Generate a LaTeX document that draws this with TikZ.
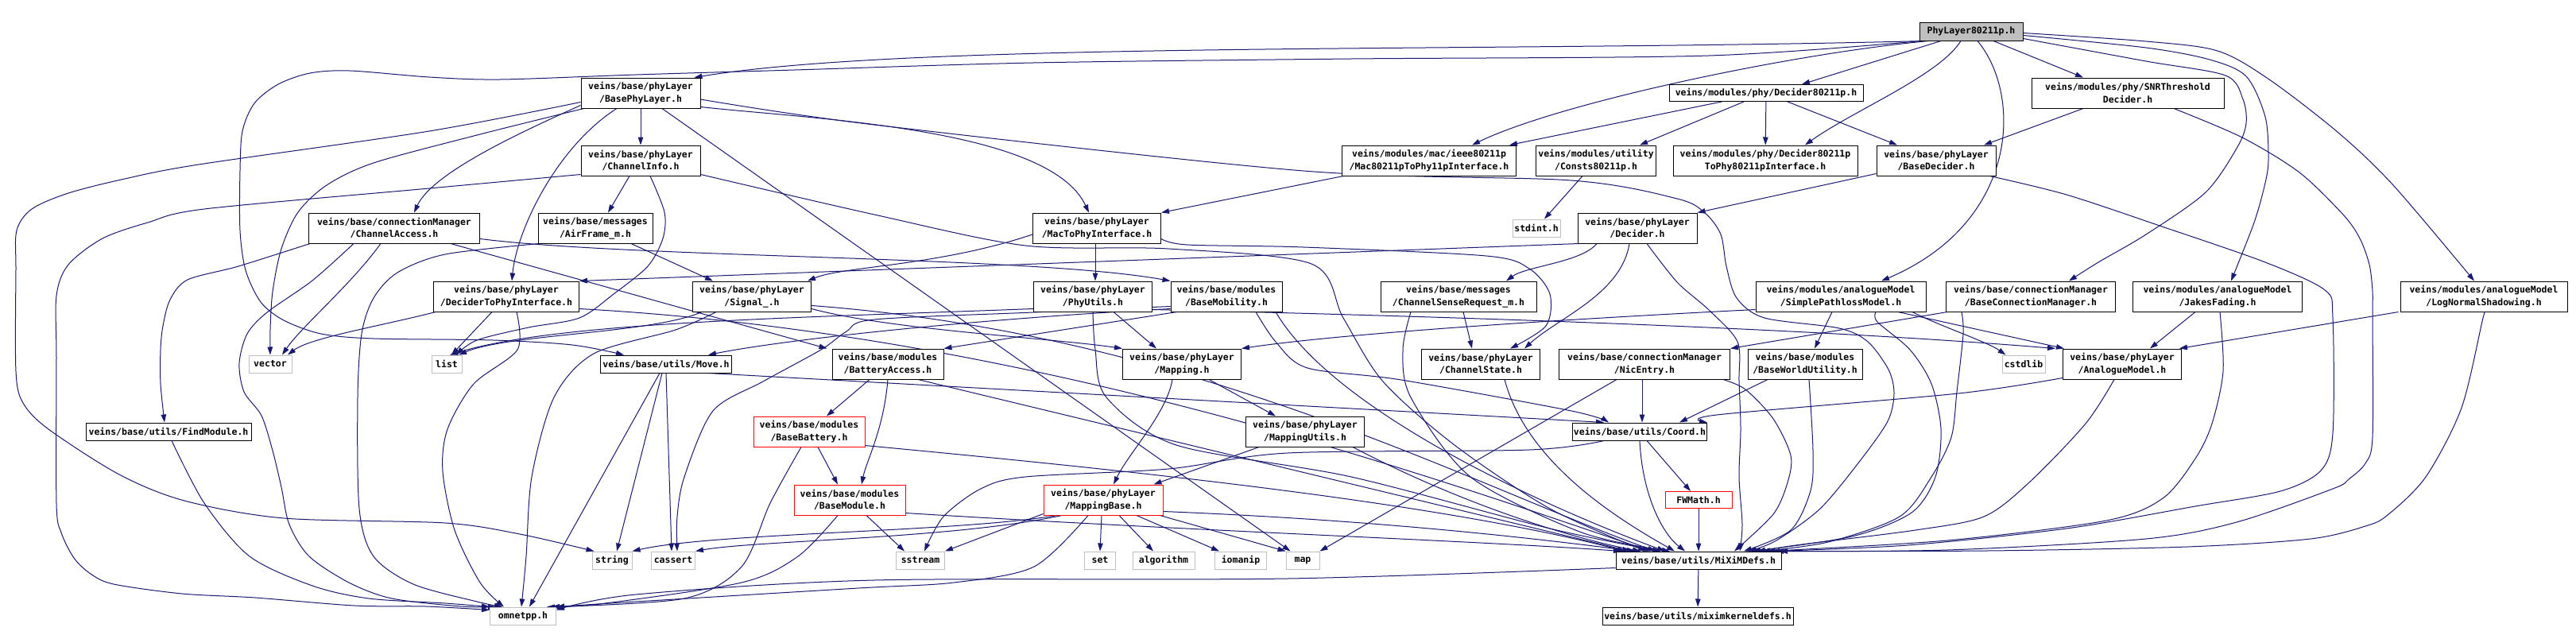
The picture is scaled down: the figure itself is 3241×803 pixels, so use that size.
\documentclass[tikz,border=0pt]{standalone}
\usepackage{fontspec}
\setmonofont{DejaVu Sans Mono}
\usetikzlibrary{arrows.meta}
\definecolor{edgeblue}{RGB}{25,25,112}
\definecolor{sysgray}{RGB}{191,191,191}
\definecolor{rootgray}{RGB}{191,191,191}
\newcommand{\hdrfont}{\ttfamily\bfseries\fontsize{11.5pt}{15.5pt}\selectfont}
\pgfdeclarelayer{bg}
\pgfdeclarelayer{edges}
\pgfsetlayers{bg,edges,main}
\tikzset{
  hbox/.style={draw=black, fill=white, line width=1pt, inner sep=0pt, align=center, minimum height=38pt, font=\hdrfont},
  hone/.style={hbox, minimum height=22pt},
  hsys/.style={hone, draw=sysgray},
  hcut/.style={draw=red},
  wd/.style={minimum width=#1pt},
  dep/.style={draw=edgeblue, line width=1pt, -{Triangle[length=10pt,width=6.5pt]}}
}

\begin{document}
\begin{tikzpicture}[x=1pt, y=1pt]
\begin{pgfonlayer}{bg}
  \fill[white] (0,0) rectangle (3241,-803);
\end{pgfonlayer}
\useasboundingbox (0,0) rectangle (3241,-803);

% top file
\node[hone, fill=rootgray, wd=130, minimum height=23pt] (root) at (2480,-39.5) {PhyLayer80211p.h};

% rank 1
\node[hbox, wd=150] (bpl) at (806,-117) {veins/base/phyLayer\\/BasePhyLayer.h};
\node[hone, wd=244, minimum height=21pt] (d11p) at (2222,-117) {veins/modules/phy/Decider80211p.h};
\node[hbox, wd=242] (snr) at (2677,-117) {veins/modules/phy/SNRThreshold\\Decider.h};

% rank 2
\node[hbox, wd=150] (cinfo) at (806,-202) {veins/base/phyLayer\\/ChannelInfo.h};
\node[hbox, wd=219] (mac11p) at (1798,-202) {veins/modules/mac/ieee80211p\\/Mac80211pToPhy11pInterface.h};
\node[hbox, wd=151] (consts) at (2008,-202) {veins/modules/utility\\/Consts80211p.h};
\node[hbox, wd=232] (d11pif) at (2221,-202) {veins/modules/phy/Decider80211p\\ToPhy80211pInterface.h};
\node[hbox, wd=150] (bdec) at (2436,-202) {veins/base/phyLayer\\/BaseDecider.h};

% rank 3
\node[hbox, wd=215] (cacc) at (496,-287) {veins/base/connectionManager\\/ChannelAccess.h};
\node[hbox, wd=144] (airframe) at (749,-287) {veins/base/messages\\/AirFrame\_m.h};
\node[hbox, wd=161] (mac2phy) at (1380,-287) {veins/base/phyLayer\\/MacToPhyInterface.h};
\node[hsys, wd=60] (stdint) at (1933,-287) {stdint.h};
\node[hbox, wd=150] (decider) at (2060,-287) {veins/base/phyLayer\\/Decider.h};

% rank 4
\node[hbox, wd=183] (d2phy) at (637,-373) {veins/base/phyLayer\\/DeciderToPhyInterface.h};
\node[hbox, wd=149] (signal) at (946,-373) {veins/base/phyLayer\\/Signal\_.h};
\node[hbox, wd=149] (phyutils) at (1375,-373) {veins/base/phyLayer\\/PhyUtils.h};
\node[hbox, wd=140] (bmob) at (1543,-373) {veins/base/modules\\/BaseMobility.h};
\node[hbox, wd=196] (csr) at (1835,-373) {veins/base/messages\\/ChannelSenseRequest\_m.h};
\node[hbox, wd=214] (spl) at (2316,-373) {veins/modules/analogueModel\\/SimplePathlossModel.h};
\node[hbox, wd=213] (bcm) at (2555,-373) {veins/base/connectionManager\\/BaseConnectionManager.h};
\node[hbox, wd=213] (jakes) at (2790,-373) {veins/modules/analogueModel\\/JakesFading.h};
\node[hbox, wd=210] (lns) at (3125,-373) {veins/modules/analogueModel\\/LogNormalShadowing.h};

% rank 5
\node[hsys, wd=54] (vector) at (340,-458) {vector};
\node[hsys, wd=38] (list) at (562,-458) {list};
\node[hone, wd=165] (move) at (838,-458) {veins/base/utils/Move.h};
\node[hbox, wd=140] (batt) at (1117,-458) {veins/base/modules\\/BatteryAccess.h};
\node[hbox, wd=149] (mapping) at (1487,-458) {veins/base/phyLayer\\/Mapping.h};
\node[hbox, wd=149] (cstate) at (1863,-458) {veins/base/phyLayer\\/ChannelState.h};
\node[hbox, wd=215] (nic) at (2069,-458) {veins/base/connectionManager\\/NicEntry.h};
\node[hbox, wd=144] (bwu) at (2271,-458) {veins/base/modules\\/BaseWorldUtility.h};
\node[hsys, wd=54] (cstdlib) at (2546,-458) {cstdlib};
\node[hbox, wd=149] (amodel) at (2670,-458) {veins/base/phyLayer\\/AnalogueModel.h};

% rank 6
\node[hone, wd=208] (findmod) at (212,-543) {veins/base/utils/FindModule.h};
\node[hbox, hcut, wd=140] (bbatt) at (1018,-543) {veins/base/modules\\/BaseBattery.h};
\node[hbox, wd=149] (mutils) at (1642,-543) {veins/base/phyLayer\\/MappingUtils.h};
\node[hone, wd=169] (coord) at (2063,-543) {veins/base/utils/Coord.h};

% rank 7
\node[hbox, hcut, wd=140] (bmod) at (1069,-629) {veins/base/modules\\/BaseModule.h};
\node[hbox, hcut, wd=150] (mbase) at (1388,-629) {veins/base/phyLayer\\/MappingBase.h};
\node[hone, hcut, wd=84, minimum height=21pt] (fwmath) at (2137,-629) {FWMath.h};

% rank 8
\node[hsys, wd=50] (string) at (770,-705) {string};
\node[hsys, wd=55] (cassert) at (847,-705) {cassert};
\node[hsys, wd=61] (sstream) at (1158,-705) {sstream};
\node[hsys, wd=39] (set) at (1384,-705) {set};
\node[hsys, wd=78] (algorithm) at (1464,-705) {algorithm};
\node[hsys, wd=65] (iomanip) at (1561,-705) {iomanip};
\node[hsys, wd=42] (map) at (1639,-705) {map};
\node[hone, wd=208] (midefs) at (2137,-705) {veins/base/utils/MiXiMDefs.h};

% rank 9
\node[hsys, wd=83] (omnetpp) at (658,-775) {omnetpp.h};
\node[hone, wd=240] (mkd) at (2136,-775) {veins/base/utils/miximkerneldefs.h};

\begin{pgfonlayer}{edges}
% PhyLayer80211p.h
\draw[dep] ([xshift=8pt]root.south west) .. controls (1850,-66) and (1150,-52) .. ([xshift=-8pt]bpl.north east);
\draw[dep] plot[smooth] coordinates {([xshift=3pt]root.south west) (2150,-70) (1700,-74) (1300,-79) (1000,-88) (800,-94) (629,-100) (540,-97) (440,-89) (390,-92) (350,-106) (320,-130) (305,-165) (302,-215) (302,-290) (309,-340) (328,-380) (357,-403) (404,-420) (470,-426) (620,-428) (720,-434) ([xshift=30pt]move.north west)};
\draw[dep] ([xshift=12pt]root.south west) .. controls (2250,-68) and (1960,-130) .. ([xshift=54pt]mac11p.north);
\draw[dep] ([xshift=-38pt]root.south) -- ([xshift=45pt]d11p.north);
\draw[dep] ([xshift=-13pt]root.south) .. controls (2440,-95) and (2330,-140) .. ([xshift=50pt]d11pif.north);
\draw[dep] ([xshift=8pt]root.south) .. controls (2545,-120) and (2540,-280) .. ([xshift=51pt]spl.north);
\draw[dep] ([xshift=28pt]root.south) -- ([xshift=-56pt]snr.north);
\draw[dep] plot[smooth] coordinates {([yshift=3pt]root.south east) (2700,-77) (2800,-95) (2822,-125) (2826,-155) (2815,-185) (2775,-242) (2700,-295) (2640,-330) ([xshift=48pt]bcm.north)};
\draw[dep] plot[smooth] coordinates {([yshift=7pt]root.south east) (2700,-60) (2780,-75) (2826,-96) (2850,-147) (2854,-200) (2850,-230) (2836,-280) ([xshift=17pt]jakes.north)};
\draw[dep] plot[smooth] coordinates {([yshift=10pt]root.south east) (2700,-52) (2790,-64) (2855,-100) (2942,-167) (3011,-233) ([xshift=-12pt]lns.north)};

% BasePhyLayer.h
\draw[dep] (bpl) -- (cinfo);
\draw[dep] ([xshift=-30pt]bpl.south) .. controls (700,-185) and (650,-290) .. ([xshift=7pt]d2phy.north);
\draw[dep] ([xshift=27pt]bpl.south) -- ([xshift=6pt]map.north west);
\draw[dep] ([yshift=2pt]bpl.south east) .. controls (1020,-150) and (1320,-160) .. ([xshift=-10pt]mac2phy.north);
\draw[dep] plot[smooth] coordinates {([yshift=-8pt]bpl.east) (1100,-157) (1640,-215) (1977,-227) (2110,-250) (2145,-268) (2165,-295) (2172,-335) (2185,-375) (2220,-400) (2314,-413) (2350,-430) (2376,-465) (2383,-495) (2375,-530) (2340,-580) (2290,-640) (2235,-680) ([xshift=63pt]midefs.north)};
\draw[dep] ([yshift=4pt]bpl.south west) .. controls (670,-160) and (545,-215) .. ([xshift=25pt]cacc.north);
\draw[dep] plot[smooth] coordinates {([xshift=4pt]bpl.south west) (600,-170) (470,-205) (411,-233) (375,-267) (354,-313) (343,-367) (340,-415) (vector.north)};
\draw[dep] plot[smooth] coordinates {([yshift=8pt]bpl.south west) (540,-165) (250,-207) (157,-225) (86,-243) (40,-263) (21,-290) (20,-340) (20,-467) (29,-507) (61,-540) (150,-597) (232,-630) (357,-652) (560,-658) (654,-672) ([xshift=3pt]string.north west)};

% ChannelInfo.h
\draw[dep] ([xshift=-14pt]cinfo.south) -- ([xshift=16pt]airframe.north);
\draw[dep] plot[smooth] coordinates {([xshift=12pt]cinfo.south) (836,-267) (834,-300) (815,-335) (772,-370) (729,-400) (665,-412) (600,-428) ([xshift=12pt]list.north)};
\draw[dep] plot[smooth] coordinates {([yshift=2pt]cinfo.south east) (1100,-270) (1290,-309) (1470,-313) (1650,-332) (1690,-400) (1740,-480) (1830,-560) (1950,-640) ([xshift=-66pt]midefs.north)};
\draw[dep] plot[smooth] coordinates {([yshift=2pt]cinfo.south west) (540,-237) (257,-263) (186,-280) (129,-300) (86,-333) (71,-372) (71,-450) (71,-633) (77,-670) (93,-702) (114,-722) (143,-735) (229,-747) (321,-752) (446,-762) (536,-763) ([yshift=-4pt]omnetpp.north west)};

% ChannelAccess.h
\draw[dep] plot[smooth] coordinates {([xshift=2pt]cacc.south west) (300,-335) (236,-352) (214,-377) (205,-410) (202,-440) (202,-483) ([xshift=-5pt]findmod.north)};
\draw[dep] plot[smooth] coordinates {([xshift=-51pt]cacc.south) (393,-353) (336,-393) (311,-420) (301,-457) (307,-493) (329,-523) (343,-567) (354,-613) (364,-660) (389,-700) (439,-733) (493,-753) (580,-763) ([xshift=8pt]omnetpp.north west)};
\draw[dep] ([xshift=-17pt]cacc.south) .. controls (440,-360) and (380,-410) .. ([xshift=15pt]vector.north);
\draw[dep] ([yshift=6pt]cacc.south east) .. controls (800,-325) and (1300,-322) .. (bmob.north west);
\draw[dep] ([xshift=71pt]cacc.south) -- ([xshift=-6pt]batt.north west);

% AirFrame_m.h
\draw[dep] ([xshift=45pt]airframe.south) -- ([xshift=-49pt]signal.north);
\draw[dep] plot[smooth] coordinates {([xshift=2pt]airframe.south west) (560,-320) (500,-343) (470,-375) (455,-420) (450,-500) (452,-640) (470,-700) (520,-735) (600,-757) ([xshift=16pt]omnetpp.north west)};

% DeciderToPhyInterface.h
\draw[dep] ([xshift=-18pt]d2phy.south) -- ([xshift=6pt]list.north);
\draw[dep] ([xshift=3pt]d2phy.south west) .. controls (480,-410) and (390,-425) .. ([xshift=22pt]vector.north);
\draw[dep] plot[smooth] coordinates {([xshift=13pt]d2phy.south) (651,-440) (596,-483) (563,-540) (557,-593) (572,-667) (604,-733) ([xshift=-24pt]omnetpp.north)};
\draw[dep] ([yshift=4pt]d2phy.south east) .. controls (1300,-420) and (1800,-600) .. ([xshift=-60pt]midefs.north);

% Signal_.h
\draw[dep] ([xshift=-63pt]signal.south) .. controls (820,-420) and (640,-420) .. ([xshift=15pt]list.north);
\draw[dep] ([yshift=4pt]signal.south east) .. controls (1120,-415) and (1320,-425) .. (mapping.north west);
\draw[dep] plot[smooth] coordinates {([xshift=-45pt]signal.south) (850,-415) (747,-445) (697,-500) (669,-600) (662,-700) ([xshift=-2pt]omnetpp.north)};
\draw[dep] ([yshift=8pt]signal.south east) .. controls (1500,-420) and (1850,-610) .. ([xshift=-54pt]midefs.north);

% MacToPhyInterface.h
\draw[dep] ([yshift=-8pt]mac2phy.west) .. controls (1180,-335) and (1060,-335) .. ([xshift=-5pt]signal.north east);
\draw[dep] ([xshift=-2pt]mac2phy.south) -- ([xshift=3pt]phyutils.north);
\draw[dep] plot[smooth] coordinates {([yshift=6pt]mac2phy.south east) (1494,-308) (1640,-311) (1870,-322) (1924,-338) (1950,-370) (1945,-410) ([xshift=-38pt]cstate.north east)};

% PhyUtils.h
\draw[dep] ([xshift=26pt]phyutils.south) -- ([xshift=-32pt]mapping.north);
\draw[dep] ([yshift=4pt]phyutils.south west) .. controls (1000,-400) and (700,-405) .. ([xshift=4pt]list.north);
\draw[dep] plot[smooth] coordinates {(phyutils.south) (1378,-440) (1392,-500) (1480,-560) (1700,-600) (1950,-665) ([xshift=-48pt]midefs.north)};
\draw[dep] ([yshift=3pt]phyutils.south east) .. controls (1900,-400) and (2300,-415) .. ([xshift=-9pt]amodel.north west);

% BaseMobility.h
\draw[dep] ([yshift=4pt]bmob.south west) .. controls (1250,-400) and (1000,-425) .. ([xshift=-30pt]move.north east);
\draw[dep] ([xshift=8pt]bmob.south west) -- (batt.north east);
\draw[dep] plot[smooth] coordinates {([xshift=37pt]bmob.south) (1605,-430) (1645,-463) (1763,-478) (1977,-517) ([xshift=46pt]coord.north west)};
\draw[dep] plot[smooth] coordinates {([yshift=7pt]bmob.south west) (1300,-393) (1100,-402) (1065,-417) (1033,-440) (960,-480) (897,-517) (861,-600) (852,-650) ([xshift=5pt]cassert.north)};
\draw[dep] ([xshift=62pt]bmob.south) .. controls (1680,-520) and (1950,-640) .. ([xshift=-42pt]midefs.north);

% Decider.h
\draw[dep] ([xshift=-51pt]decider.south) .. controls (1990,-330) and (1920,-335) .. ([xshift=60pt]csr.north);
\draw[dep] ([xshift=-10pt]decider.south) .. controls (2040,-370) and (1960,-400) .. ([xshift=-20pt]cstate.north east);
\draw[dep] ([xshift=2pt]decider.south west) -- (d2phy.north east);
\draw[dep] plot[smooth] coordinates {([xshift=12pt]decider.south) (2110,-355) (2150,-390) (2186,-430) (2188,-480) (2190,-540) (2188,-600) (2192,-660) ([xshift=52pt]midefs.north)};

% ChannelSenseRequest_m.h
\draw[dep] ([xshift=6pt]csr.south) -- ([xshift=-11pt]cstate.north);
\draw[dep] plot[smooth] coordinates {([xshift=-60pt]csr.south) (1765,-440) (1775,-500) (1850,-600) (1990,-670) ([xshift=-36pt]midefs.north)};

% ChannelState.h
\draw[dep] ([xshift=30pt]cstate.south) .. controls (1920,-580) and (2030,-650) .. ([xshift=-30pt]midefs.north);

% BaseDecider.h and friends
\draw[dep] ([yshift=3pt]bdec.south west) -- (decider.north east);
\draw[dep] plot[smooth] coordinates {([xshift=-8pt]bdec.south east) (2600,-245) (2720,-285) (2850,-330) (2925,-365) (2935,-400) (2935,-545) (2920,-592) (2869,-618) (2762,-637) (2600,-665) (2400,-686) ([xshift=92pt]midefs.north)};
\draw[dep] ([xshift=-56pt]snr.south) -- ([xshift=60pt]bdec.north);
\draw[dep] plot[smooth] coordinates {([xshift=58pt]snr.south) (2821,-173) (2893,-217) (2948,-270) (2969,-300) (2981,-333) (2985,-367) (2985,-400) (2985,-550) (2976,-583) (2955,-603) (2935,-615) (2814,-657) (2700,-678) (2450,-692) ([xshift=97pt]midefs.north)};

% Decider80211p.h
\draw[dep] ([xshift=-56pt]d11p.south) -- ([xshift=-9pt]mac11p.north east);
\draw[dep] ([xshift=-28pt]d11p.south) -- ([xshift=55pt]consts.north);
\draw[dep] (d11p) -- (d11pif);
\draw[dep] ([xshift=27pt]d11p.south) -- ([xshift=-49pt]bdec.north);
\draw[dep] ([xshift=2pt]mac11p.south west) -- (mac2phy.north east);
\draw[dep] ([xshift=-17pt]consts.south) -- ([xshift=10pt]stdint.north);

% analogue models and connection manager
\draw[dep] ([xshift=72pt]spl.south) -- ([xshift=2pt]amodel.north west);
\draw[dep] ([xshift=-11pt]spl.south) -- ([xshift=12pt]bwu.north);
\draw[dep] ([xshift=90pt]spl.south) .. controls (2440,-410) and (2500,-430) .. ([xshift=5pt]cstdlib.north west);
\draw[dep] plot[smooth] coordinates {([xshift=44pt]spl.south) (2362,-405) (2403,-440) (2430,-483) (2442,-540) (2435,-600) (2405,-645) (2330,-675) ([xshift=68pt]midefs.north)};
\draw[dep] ([yshift=3pt]spl.south west) .. controls (2000,-400) and (1700,-418) .. (mapping.north east);
\draw[dep] ([xshift=2pt]bcm.south west) -- (nic.north east);
\draw[dep] plot[smooth] coordinates {([xshift=20pt]bcm.south west) (2470,-420) (2462,-493) (2455,-550) (2430,-600) (2390,-650) (2300,-682) ([xshift=80pt]midefs.north)};
\draw[dep] ([xshift=-28pt]jakes.south) -- ([xshift=35pt]amodel.north);
\draw[dep] plot[smooth] coordinates {([xshift=3pt]jakes.south) (2797,-467) (2783,-533) (2762,-577) (2721,-627) (2650,-655) (2450,-680) ([xshift=86pt]midefs.north)};
\draw[dep] ([xshift=-2pt]lns.south west) -- ([xshift=-3pt]amodel.north east);
\draw[dep] plot[smooth] coordinates {([xshift=3pt]lns.south) (3124,-400) (3097,-513) (3052,-600) (3004,-648) (2976,-662) (2907,-678) (2752,-688) (2500,-693) ([xshift=102pt]midefs.north)};
\draw[dep] plot[smooth] coordinates {([yshift=2pt]amodel.south west) (2464,-495) (2160,-522) (coord.north east)};
\draw[dep] plot[smooth] coordinates {([xshift=-10pt]amodel.south) (2624,-533) (2553,-607) (2496,-650) (2410,-667) (2267,-685) ([xshift=74pt]midefs.north)};

% NicEntry.h, BaseWorldUtility.h
\draw[dep] ([xshift=-3pt]nic.south) -- ([xshift=3pt]coord.north);
\draw[dep] ([xshift=-35pt]nic.south) -- (map.north east);
\draw[dep] plot[smooth] coordinates {([xshift=-9pt]nic.south east) (2196,-490) (2231,-527) (2253,-573) (2249,-607) (2231,-647) ([xshift=45pt]midefs.north)};
\draw[dep] ([xshift=-47pt]bwu.south) -- ([xshift=-35pt]coord.north east);
\draw[dep] plot[smooth] coordinates {([xshift=5pt]bwu.south) (2281,-567) (2278,-617) (2253,-667) ([xshift=57pt]midefs.north)};

% Move.h
\draw[dep] ([xshift=-5pt]move.south) -- ([xshift=6pt]string.north);
\draw[dep] (move.south) -- ([xshift=-2pt]cassert.north);
\draw[dep] ([xshift=-8pt]move.south) -- ([xshift=8pt]omnetpp.north);
\draw[dep] ([xshift=-30pt]move.south east) -- ([xshift=40pt]coord.north west);

% BatteryAccess.h, BaseBattery.h, BaseModule.h
\draw[dep] ([xshift=-23pt]batt.south) -- ([xshift=22pt]bbatt.north);
\draw[dep] (batt.south) .. controls (1112,-540) and (1090,-580) .. ([xshift=15pt]bmod.north);
\draw[dep] ([xshift=38pt]batt.south) -- ([xshift=-86pt]midefs.north);
\draw[dep] ([xshift=11pt]bbatt.south) -- ([xshift=-15pt]bmod.north);
\draw[dep] plot[smooth] coordinates {([xshift=-10pt]bbatt.south) (969,-633) (933,-713) (861,-753) ([xshift=-6pt]omnetpp.north east)};
\draw[dep] ([yshift=2pt]bbatt.south east) .. controls (1400,-590) and (1800,-630) .. ([xshift=-92pt]midefs.north);
\draw[dep] ([xshift=21pt]bmod.south) -- ([xshift=-20pt]sstream.north);
\draw[dep] plot[smooth] coordinates {([xshift=-15pt]bmod.south) (1004,-700) (933,-733) (754,-760) ([xshift=-12pt]omnetpp.north east)};
\draw[dep] ([yshift=3pt]bmod.south east) .. controls (1500,-668) and (1850,-680) .. ([xshift=-97pt]midefs.north);

% Mapping.h, MappingUtils.h, MappingBase.h
\draw[dep] ([xshift=-12pt]mapping.south) .. controls (1468,-520) and (1420,-570) .. ([xshift=13pt]mbase.north);
\draw[dep] ([xshift=34pt]mapping.south) -- ([xshift=-37pt]mutils.north);
\draw[dep] ([xshift=17pt]mutils.south west) -- ([xshift=-12pt]mbase.north east);
\draw[dep] ([xshift=60pt]mutils.south) .. controls (1850,-640) and (1990,-680) .. ([xshift=-73pt]midefs.north);
\draw[dep] ([yshift=2pt]mbase.south west) -- (sstream.north east);
\draw[dep] ([xshift=-58pt]mbase.south) .. controls (1200,-670) and (900,-670) .. (string.north east);
\draw[dep] ([xshift=-52pt]mbase.south) .. controls (1200,-678) and (950,-680) .. (cassert.north east);
\draw[dep] plot[smooth] coordinates {([xshift=-19pt]mbase.south) (1301,-713) (1200,-733) (1080,-740) (800,-757) (omnetpp.north east)};
\draw[dep] ([xshift=-2pt]mbase.south) -- (set.north);
\draw[dep] ([xshift=20pt]mbase.south) -- ([xshift=-13pt]algorithm.north);
\draw[dep] ([xshift=42pt]mbase.south) -- ([xshift=-27pt]iomanip.north);
\draw[dep] ([xshift=-4pt]mbase.south east) -- (map.north west);
\draw[dep] ([yshift=5pt]mbase.south east) .. controls (1750,-655) and (1950,-680) .. ([xshift=-80pt]midefs.north);

% Coord.h, FWMath.h, MiXiMDefs.h
\draw[dep] ([xshift=9pt]coord.south) -- ([xshift=-10pt]fwmath.north);
\draw[dep] (coord.south) .. controls (2066,-620) and (2090,-670) .. ([xshift=-17pt]midefs.north);
\draw[dep] plot[smooth] coordinates {([xshift=-45pt]coord.south) (1924,-566) (1620,-570) (1470,-590) (1290,-600) (1234,-615) (1187,-650) ([xshift=5pt]sstream.north)};
\draw[dep] (fwmath) -- (midefs);
\draw[dep] (midefs) -- (mkd);
\draw[dep] plot[smooth] coordinates {([yshift=2pt]midefs.south west) (1620,-728) (1100,-730) (800,-748) ([yshift=-4pt]omnetpp.north east)};

% FindModule.h
\draw[dep] plot[smooth] coordinates {([xshift=4pt]findmod.south) (257,-633) (314,-700) (393,-737) (464,-753) (560,-759) (omnetpp.north west)};
\end{pgfonlayer}
\end{tikzpicture}
\end{document}
